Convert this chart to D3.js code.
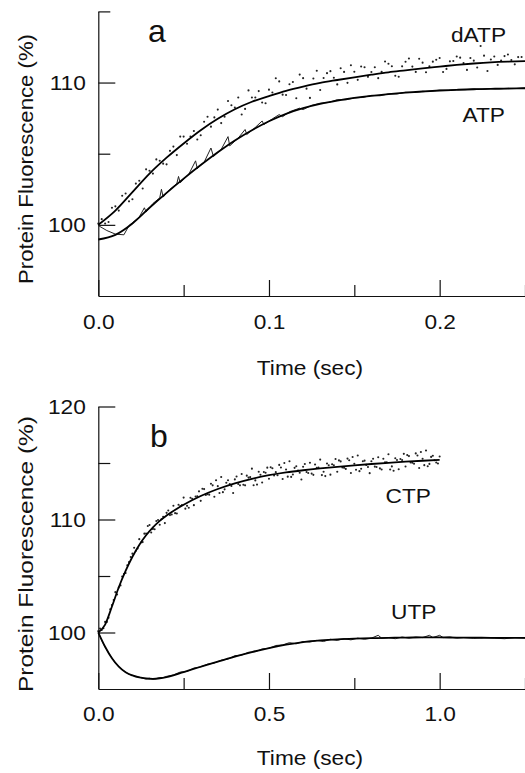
<!DOCTYPE html>
<html><head><meta charset="utf-8">
<script src="https://cdn.jsdelivr.net/npm/d3@7"></script>
<style>
body{margin:0;background:#fff}
svg{display:block}
</style>
</head><body>
<svg id="c" width="525" height="773"></svg>
<script>
// ---------------- DATA ----------------
// Panel a: fitted curves (time in sec, fluorescence in %)
const fitTimeA = [0,0.01,0.02,0.03,0.04,0.05,0.06,0.07,0.08,0.09,0.10,0.11,0.12,0.13,0.14,0.15,0.16,0.17,0.18,0.19,0.20,0.21,0.22,0.23,0.24,0.25];
const dATPfit = [100.0,101.0,102.3,103.6,104.72,105.72,106.65,107.45,108.12,108.65,109.05,109.42,109.72,109.98,110.18,110.37,110.55,110.72,110.86,111.0,111.12,111.24,111.34,111.42,111.47,111.5];
const ATPfit  = [98.97,99.3,100.1,101.2,102.25,103.25,104.2,105.1,105.93,106.65,107.28,107.8,108.2,108.5,108.73,108.92,109.07,109.19,109.29,109.37,109.44,109.49,109.53,109.56,109.58,109.6];

// Panel a: raw dATP points (t, %)
const dATPraw = [
[0.000,100.1],[0.004,100.1],[0.008,101.2],[0.012,101.0],[0.016,102.2],[0.020,101.8],[0.024,103.1],[0.028,103.9],[0.032,103.6],[0.036,104.5],
[0.040,104.25],[0.044,105.5],[0.048,106.2],[0.052,105.7],[0.056,106.6],[0.060,106.3],[0.064,107.6],[0.068,107.55],[0.072,107.15],[0.076,108.7],
[0.080,108.25],[0.084,107.75],[0.088,109.45],[0.092,108.95],[0.096,108.6],[0.100,109.5],[0.104,110.3],[0.108,109.15],[0.112,109.88],[0.116,108.9],
[0.120,110.31],[0.124,108.92],[0.128,110.83],[0.132,110.32],[0.136,110.8],[0.140,109.87],[0.144,110.75],[0.148,111.22],[0.152,110.19],[0.156,111.07],
[0.160,110.74],[0.164,110.31],[0.168,111.48],[0.172,111.15],[0.176,110.41],[0.180,111.46],[0.184,111.12],[0.188,111.67],[0.192,110.72],[0.196,111.47],
[0.200,111.72],[0.204,110.96],[0.208,111.51],[0.212,111.75],[0.216,110.89],[0.220,111.54],[0.224,112.57],[0.228,110.81],[0.232,111.83],[0.236,111.55],
[0.240,111.97],[0.244,111.28],[0.248,111.8],
[0.002,100.4],[0.006,100.2],[0.010,101.3],[0.014,102.05],[0.018,101.65],[0.022,102.9],[0.026,102.55],[0.030,103.8],[0.034,104.6],[0.038,104.3],
[0.042,105.2],[0.046,104.9],[0.050,106.2],[0.054,106.2],[0.058,106.0],[0.062,107.25],[0.066,106.9],[0.070,108.1],[0.074,107.6],[0.078,108.4],
[0.082,108.95],[0.086,108.15],[0.090,108.95],[0.094,109.4],[0.098,108.55],[0.102,109.3],[0.106,110.08],[0.110,109.12],[0.114,110.04],[0.118,110.56],
[0.122,109.57],[0.126,110.28],[0.130,109.48],[0.134,110.66],[0.138,110.34],[0.142,111.01],[0.146,109.98],[0.150,110.76],[0.154,111.13],[0.158,110.4],
[0.162,111.08],[0.166,110.75],[0.170,111.32],[0.174,110.48],[0.178,111.14],[0.182,111.69],[0.186,110.75],[0.190,111.4],[0.194,111.15],[0.198,111.6],
[0.202,110.74],[0.206,111.49],[0.210,111.83],[0.214,111.37],[0.218,111.72],[0.222,111.06],[0.226,111.89],[0.230,111.62],[0.234,111.24],[0.238,111.86],
[0.242,111.58],[0.246,111.79]
];

// Panel a: raw ATP trace (t, %)
const ATPraw = [
[0.000,99.95],[0.005,99.6],[0.010,99.35],[0.015,99.3],[0.018,99.95],[0.020,100.15],[0.024,100.55],[0.027,101.2],[0.028,100.9],[0.032,101.5],
[0.036,101.9],[0.037,102.5],[0.038,101.95],[0.042,102.5],[0.046,102.9],[0.047,103.4],[0.048,102.95],[0.053,103.55],[0.057,104.5],[0.058,103.95],
[0.062,104.4],[0.066,105.4],[0.0675,104.8],[0.072,105.3],[0.076,106.2],[0.077,105.55],[0.082,106.1],[0.086,106.7],[0.087,106.35],[0.092,106.85],
[0.096,107.3],[0.097,107.05],[0.102,107.45],[0.106,107.75],[0.108,107.6],[0.112,107.95],[0.118,108.2],[0.120,108.1],[0.125,108.4],[0.130,108.55],
[0.135,108.6],[0.140,108.8],[0.145,108.78],[0.150,108.92],[0.155,108.95],[0.160,109.1],[0.165,109.07],[0.170,109.2],[0.175,109.2],[0.180,109.32],
[0.185,109.3],[0.190,109.38],[0.195,109.4],[0.200,109.46],[0.205,109.44],[0.210,109.5],[0.215,109.5],[0.220,109.55],[0.225,109.52],[0.230,109.58],
[0.235,109.56],[0.240,109.6],[0.245,109.58],[0.250,109.62]
];

// Panel b: fitted curves
const fitTimeB = [0,0.02,0.04,0.06,0.08,0.10,0.12,0.14,0.16,0.18,0.20,0.25,0.30,0.35,0.40,0.45,0.50,0.55,0.60,0.65,0.70,0.75,0.80,0.85,0.90,0.95,1.00,1.05,1.10,1.15,1.20,1.25];
const CTPfit = [100,100.7,102.3,104.0,105.45,106.7,107.75,108.6,109.3,109.88,110.35,111.3,112.08,112.7,113.2,113.6,113.92,114.17,114.36,114.52,114.66,114.79,114.91,115.02,115.12,115.2,115.27];
const UTPfit = [100,98.74,97.72,96.98,96.48,96.2,96.02,95.93,95.9,95.95,96.06,96.5,96.97,97.43,97.87,98.27,98.62,98.92,99.15,99.3,99.4,99.46,99.5,99.53,99.55,99.56,99.56,99.55,99.54,99.53,99.53,99.53];

// Panel b: raw CTP points
const CTPraw = [
[0.00,100.12],[0.01,100.22],[0.02,100.94],[0.03,101.3],[0.04,102.44],[0.05,103.57],[0.06,103.98],[0.07,104.96],[0.08,105.26],[0.09,106.23],
[0.10,106.98],[0.11,107.23],[0.12,108.26],[0.13,108.0],[0.14,108.76],[0.15,109.51],[0.16,109.17],[0.17,109.87],[0.18,109.54],[0.19,110.25],
[0.20,110.59],[0.21,110.39],[0.22,111.22],[0.23,110.53],[0.24,111.2],[0.25,111.94],[0.26,111.21],[0.27,111.92],[0.28,111.27],[0.29,112.06],
[0.30,111.65],[0.31,112.69],[0.32,112.23],[0.33,113.17],[0.34,112.01],[0.35,112.95],[0.36,113.76],[0.37,112.67],[0.38,113.48],[0.39,112.97],
[0.40,113.55],[0.41,113.14],[0.42,114.03],[0.43,113.02],[0.44,113.71],[0.45,114.5],[0.46,113.46],[0.47,114.22],[0.48,113.28],[0.49,114.14],
[0.50,113.6],[0.51,114.54],[0.52,114.19],[0.53,114.83],[0.54,113.58],[0.55,114.42],[0.56,115.15],[0.57,113.98],[0.58,114.71],[0.59,114.14],
[0.60,114.67],[0.61,114.2],[0.62,115.02],[0.63,113.95],[0.64,114.57],[0.65,115.3],[0.66,114.22],[0.67,114.95],[0.68,113.97],[0.69,114.8],
[0.70,114.22],[0.71,115.14],[0.72,114.57],[0.73,115.39],[0.74,114.12],[0.75,114.94],[0.76,115.66],[0.77,114.49],[0.78,115.21],[0.79,114.64],
[0.80,115.16],[0.81,114.68],[0.82,115.51],[0.83,114.43],[0.84,115.06],[0.85,115.78],[0.86,114.7],[0.87,115.42],[0.88,114.45],[0.89,115.27],
[0.90,114.69],[0.91,115.61],[0.92,115.03],[0.93,115.85],[0.94,114.56],[0.95,115.38],[0.96,116.1],[0.97,114.92],[0.98,115.64],[0.99,115.05],[1.00,115.57],
[0.005,100.35],[0.025,100.94],[0.045,102.87],[0.065,104.17],[0.085,105.95],[0.105,107.5],[0.125,107.96],[0.145,109.43],[0.165,109.14],[0.185,110.02],
[0.205,110.8],[0.225,110.56],[0.245,111.28],[0.265,111.04],[0.285,112.04],[0.305,112.72],[0.325,112.2],[0.345,113.48],[0.365,112.42],[0.385,113.13],
[0.405,113.8],[0.425,113.08],[0.445,113.75],[0.465,113.09],[0.485,114.21],[0.505,114.62],[0.525,113.91],[0.545,115.0],[0.565,113.77],[0.585,114.33],
[0.605,114.91],[0.625,114.06],[0.645,114.59],[0.665,113.84],[0.685,114.89],[0.705,115.23],[0.725,114.48],[0.745,115.53],[0.765,114.28],[0.785,114.83],
[0.805,115.37],[0.825,114.52],[0.845,115.07],[0.865,114.31],[0.885,115.36],[0.905,115.7],[0.925,114.94],[0.945,115.97],[0.965,114.71],[0.985,115.25],
[0.015,100.38],[0.035,102.06],[0.055,103.36],[0.075,105.18],[0.095,106.68],[0.115,107.43],[0.135,108.75],[0.155,108.85],[0.175,109.95],[0.195,109.68],
[0.215,110.44],[0.235,111.3],[0.255,110.96],[0.275,111.83],[0.295,112.49],[0.315,112.17],[0.335,113.02],[0.355,112.35],[0.375,113.25],[0.395,112.35],
[0.415,113.02],[0.435,113.88],[0.455,113.03],[0.475,113.96],[0.495,114.59],[0.515,113.9],[0.535,114.6],[0.555,113.79],[0.575,114.57],[0.595,113.54],
[0.615,114.11],[0.635,114.87],[0.655,113.93],[0.675,114.8],[0.695,115.35],[0.715,114.6],[0.735,115.25],[0.755,114.4],[0.775,115.15],[0.795,114.1],
[0.815,114.64],[0.835,115.38],[0.855,114.43],[0.875,115.27],[0.895,115.81],[0.915,115.04],[0.935,115.67],[0.955,114.81],[0.975,115.54],[0.995,114.96]
];

// Panel b: raw UTP trace
const UTPraw = [
[0.00,100.0],[0.01,99.3],[0.02,98.7],[0.03,98.2],[0.04,97.75],[0.05,97.3],[0.06,96.98],[0.07,96.7],[0.08,96.5],[0.09,96.3],
[0.10,96.22],[0.11,96.1],[0.12,96.05],[0.13,95.95],[0.14,95.9],[0.15,95.95],[0.16,95.85],[0.17,95.92],[0.18,96.0],[0.19,96.0],
[0.20,96.12],[0.22,96.25],[0.24,96.5],[0.26,96.55],[0.28,96.85],[0.30,96.95],[0.32,97.2],[0.34,97.3],[0.36,97.55],[0.38,97.65],
[0.40,97.95],[0.42,98.0],[0.44,98.25],[0.46,98.3],[0.48,98.55],[0.50,98.6],[0.52,98.85],[0.54,98.9],[0.56,99.1],[0.58,99.0],
[0.60,99.2],[0.62,99.15],[0.64,99.3],[0.66,99.2],[0.68,99.4],[0.70,99.3],[0.72,99.45],[0.74,99.35],[0.76,99.5],[0.78,99.4],
[0.80,99.5],[0.82,99.75],[0.83,99.5],[0.85,99.55],[0.87,99.45],[0.89,99.6],[0.91,99.5],[0.93,99.6],[0.95,99.55],[0.97,99.75],
[0.98,99.55],[1.00,99.75],[1.01,99.55],[1.03,99.6],[1.05,99.5],[1.07,99.55],[1.10,99.48],[1.13,99.55],[1.16,99.5],[1.19,99.45],
[1.22,99.55],[1.25,99.5]
];

// Ticks
const xMajorA = [0, 0.1, 0.2], xMinorA = [0.05, 0.15, 0.25];
const yMajorA = [100, 110], yMinorA = [105, 115];
const xMajorB = [0, 0.5, 1.0], xMinorB = [0.25, 0.75, 1.25];
const yMajorB = [100, 110, 120], yMinorB = [105, 115];

// ---------------- DRAWING ----------------
const FONT = '"Liberation Sans", Arial, Helvetica, sans-serif';
const svg = d3.select("#c");

function drawPanel(cfg) {
  const x = d3.scaleLinear().domain(cfg.xDomain).range([98.3, 525]);
  const y = d3.scaleLinear().domain(cfg.yDomain).range(cfg.yRange);
  const g = svg.append("g");
  const y0 = y(cfg.yDomain[0]);

  g.append("g").attr("transform", `translate(${x(0)},0)`)
    .call(d3.axisLeft(y).tickValues(cfg.yMajor).tickSize(-17).tickSizeOuter(0).tickPadding(12.5).tickFormat(d3.format("d")));
  g.append("g").attr("transform", `translate(${x(0)},0)`)
    .call(d3.axisLeft(y).tickValues(cfg.yMinor).tickSize(-12).tickSizeOuter(0).tickFormat(""))
    .call(s => s.select(".domain").remove());
  g.append("g").attr("transform", `translate(0,${y0})`)
    .call(d3.axisBottom(x).tickValues(cfg.xMajor).tickSize(-16).tickSizeOuter(0).tickPadding(cfg.xPad).tickFormat(d3.format(".1f")));
  g.append("g").attr("transform", `translate(0,${y0})`)
    .call(d3.axisBottom(x).tickValues(cfg.xMinor).tickSize(-11).tickSizeOuter(0).tickFormat(""))
    .call(s => s.select(".domain").remove());

  g.selectAll(".tick line, .domain").attr("stroke", "#111").attr("stroke-width", 1.2);
  g.selectAll(".tick text").attr("font-family", FONT).attr("font-size", 21).attr("fill", "#111").classed("st", true);

  const line = d3.line().x(d => x(d[0])).y(d => y(d[1])).curve(d3.curveMonotoneX);
  const rawLine = d3.line().x(d => x(d[0])).y(d => y(d[1]));

  cfg.traces.forEach(tr => {
    g.append("path").datum(tr).attr("d", rawLine).attr("fill", "none")
      .attr("stroke", "#222").attr("stroke-width", 1).attr("stroke-linejoin", "round");
  });
  cfg.dots.forEach(ds => {
    g.append("g").selectAll("circle").data(ds).join("circle")
      .attr("cx", d => x(d[0])).attr("cy", d => y(d[1])).attr("r", 1.05).attr("fill", "#222");
  });
  cfg.fits.forEach(f => {
    g.append("path").datum(d3.zip(f.t.slice(0, f.v.length), f.v)).attr("d", line)
      .attr("fill", "none").attr("stroke", "#000").attr("stroke-width", 1.8);
  });

  g.append("text").attr("x", 310).attr("y", cfg.xTitleY).attr("text-anchor", "middle")
    .attr("font-family", FONT).attr("font-size", 21).attr("fill", "#111").classed("st", true).text("Time (sec)");
  g.append("text").attr("transform", `translate(33,${cfg.yTitleC}) rotate(-90)`).attr("text-anchor", "middle")
    .attr("font-family", FONT).attr("font-size", 21).attr("fill", "#111")
    .attr("textLength", cfg.yTitleLen).attr("lengthAdjust", "spacingAndGlyphs")
    .text("Protein Fluorescence (%)");
  g.append("text").attr("x", cfg.letter[1]).attr("y", cfg.letter[2])
    .attr("font-family", FONT).attr("font-size", 32).attr("fill", "#111").text(cfg.letter[0]);
  cfg.labels.forEach(l => {
    g.append("text").attr("x", l[1]).attr("y", l[2]).attr("font-family", FONT)
      .attr("font-size", 21).attr("fill", "#111").classed("st", true).text(l[0]);
  });
}

drawPanel({
  xDomain: [0, 0.25], yDomain: [95, 115], yRange: [296, 11.4],
  xMajor: xMajorA, xMinor: xMinorA, yMajor: yMajorA, yMinor: yMinorA, xPad: 18.5,
  traces: [ATPraw], dots: [dATPraw],
  fits: [{t: fitTimeA, v: dATPfit}, {t: fitTimeA, v: ATPfit}],
  xTitleY: 375, yTitleC: 159, yTitleLen: 250,
  letter: ["a", 148, 42],
  labels: [["dATP", 451, 41.7], ["ATP", 462.5, 121.7]]
});
drawPanel({
  xDomain: [0, 1.25], yDomain: [95, 120], yRange: [689, 406.5],
  xMajor: xMajorB, xMinor: xMinorB, yMajor: yMajorB, yMinor: yMinorB, xPad: 17,
  traces: [UTPraw], dots: [CTPraw],
  fits: [{t: fitTimeB, v: CTPfit}, {t: fitTimeB, v: UTPfit}],
  xTitleY: 765, yTitleC: 554, yTitleLen: 276,
  letter: ["b", 150, 447],
  labels: [["CTP", 385.5, 503], ["UTP", 391, 619]]
});

svg.selectAll("text.st").each(function () {
  const len = this.getComputedTextLength();
  d3.select(this).attr("textLength", len * 1.08).attr("lengthAdjust", "spacingAndGlyphs");
});
</script>
</body></html>
